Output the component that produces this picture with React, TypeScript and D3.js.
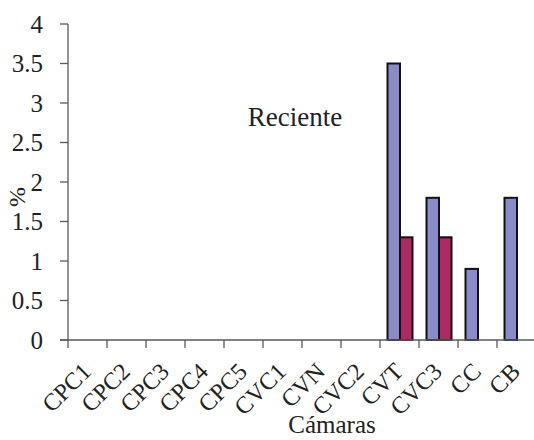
import React from "react";
import * as d3 from "d3";

const categories = ["CPC1","CPC2","CPC3","CPC4","CPC5","CVC1","CVN","CVC2","CVT","CVC3","CC","CB"];
const seriesA = [0,0,0,0,0,0,0,0,3.5,1.8,0.9,1.8];
const seriesB = [0,0,0,0,0,0,0,0,1.3,1.3,0,0];
const yTicks = [0,0.5,1,1.5,2,2.5,3,3.5,4];
const colors = ["#8b8bc9","#ae2a62"];

export default function App() {
  const W = 534, H = 440;
  const x0 = 68, x1 = 536, yTop = 24, yBot = 340;
  const x = d3.scaleBand<string>().domain(categories).range([x0, x1]).paddingInner(0).paddingOuter(0);
  const y = d3.scaleLinear().domain([0, 4]).range([yBot, yTop]);
  const step = x.step();
  const ts = { fontFamily: "Liberation Serif" };
  const axisColor = "#5a5a5a";
  const barW = 12.5;
  const data = [seriesA, seriesB];
  return (
    <svg width={W} height={H} style={{ position: "absolute", left: 0, top: 0, background: "#fff" }}>
      {categories.map((c, i) => {
        const cx = (x(c) as number) + step / 2 + 0.5;
        return data.map((s, k) => {
          const v = s[i];
          if (!v) return null;
          const bx = cx - barW + k * barW;
          return (
            <rect key={c + k} x={bx} y={y(v)} width={barW} height={yBot - y(v)}
              fill={colors[k]} stroke="#111" strokeWidth={2} />
          );
        });
      })}
      <line x1={x0} x2={x0} y1={yTop} y2={yBot} stroke={axisColor} strokeWidth={1.3} />
      {yTicks.map((t) => (
        <g key={t}>
          <line x1={x0 - 8} x2={x0} y1={y(t)} y2={y(t)} stroke={axisColor} strokeWidth={1.3} />
          <text x={43} y={y(t)} dy="0.34em" textAnchor="end" fontSize={25} fill="#222" style={ts}>{t}</text>
        </g>
      ))}
      <line x1={x0 - 8} x2={x1} y1={yBot} y2={yBot} stroke={axisColor} strokeWidth={1.3} />
      {categories.map((c) => (
        <line key={"t" + c} x1={(x(c) as number)} x2={(x(c) as number)} y1={yBot} y2={yBot + 8} stroke={axisColor} strokeWidth={1.3} />
      ))}
      {categories.map((c) => {
        const cx = (x(c) as number) + step / 2 + 5;
        const cy = 373;
        return (
          <text key={"l" + c} x={cx} y={cy} textAnchor="end" fontSize={24} fill="#222" style={ts}
            transform={`rotate(-45 ${cx} ${cy})`}>{c}</text>
        );
      })}
      <text x={332} y={433} textAnchor="middle" fontSize={25} fill="#222" style={ts}>Cámaras</text>
      <text x={0} y={0} textAnchor="middle" fontSize={24} fill="#222" style={ts} transform={`translate(25 197) rotate(-90)`}>%</text>
      <text x={295} y={126} textAnchor="middle" fontSize={27} fill="#222" style={ts}>Reciente</text>
    </svg>
  );
}
